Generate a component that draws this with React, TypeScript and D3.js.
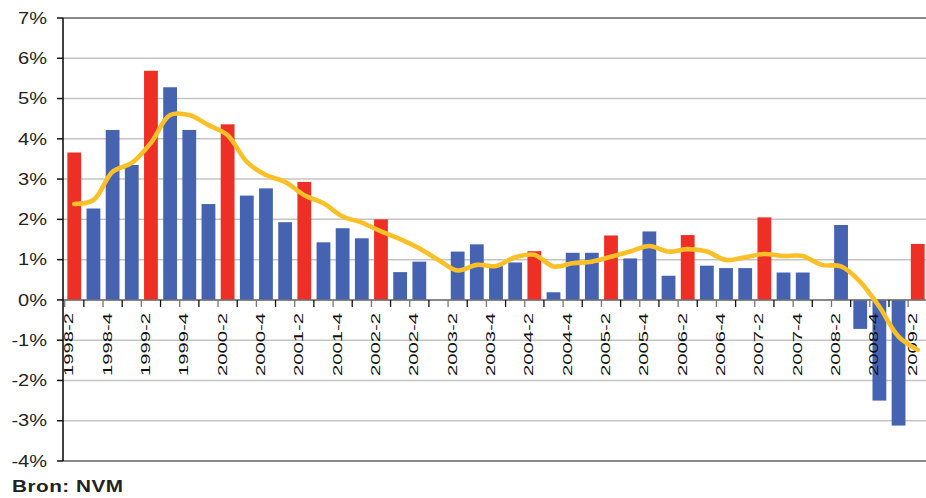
import React from 'react';
import * as d3 from 'd3';

// Quarterly categories (year-quarter)
const categories = [
  '1998-2', '1998-3', '1998-4', '1999-1', '1999-2', '1999-3', '1999-4', '2000-1',
  '2000-2', '2000-3', '2000-4', '2001-1', '2001-2', '2001-3', '2001-4', '2002-1',
  '2002-2', '2002-3', '2002-4', '2003-1', '2003-2', '2003-3', '2003-4', '2004-1',
  '2004-2', '2004-3', '2004-4', '2005-1', '2005-2', '2005-3', '2005-4', '2006-1',
  '2006-2', '2006-3', '2006-4', '2007-1', '2007-2', '2007-3', '2007-4', '2008-1',
  '2008-2', '2008-3', '2008-4', '2009-1', '2009-2',
];

// Quarterly change (%)
const barValues = [
  3.66, 2.27, 4.22, 3.35, 5.69, 5.28, 4.22, 2.38,
  4.36, 2.59, 2.77, 1.93, 2.93, 1.43, 1.78, 1.53,
  2.0, 0.69, 0.95, 0, 1.2, 1.38, 0.88, 0.93,
  1.21, 0.19, 1.17, 1.17, 1.6, 1.03, 1.7, 0.6,
  1.61, 0.85, 0.79, 0.79, 2.05, 0.68, 0.68, 0,
  1.86, -0.72, -2.5, -3.12, 1.39,
];

// Smoothed trend (%)
const trendValues = [
  2.38, 2.48, 3.18, 3.4, 3.9, 4.59, 4.59, 4.34,
  4.09, 3.43, 3.1, 2.93, 2.6, 2.4, 2.07, 1.92,
  1.7, 1.51, 1.28, 0.99, 0.73, 0.87, 0.84, 1.06,
  1.12, 0.83, 0.91, 0.95, 1.07, 1.2, 1.34, 1.2,
  1.26, 1.2, 0.99, 1.06, 1.14, 1.09, 1.09, 0.87,
  0.83, 0.45, -0.17, -0.91, -1.24,
];

// Bars drawn in red
const redQuarters = [
  '1998-2', '1999-2', '2000-2', '2001-2', '2002-2',
  '2004-2', '2005-2', '2006-2', '2007-2', '2009-2',
];

const yTicks = [-4, -3, -2, -1, 0, 1, 2, 3, 4, 5, 6, 7];

const W = 926;
const H = 498;
const RED = '#ee2f26';
const BLUE = '#4563b0';
const GOLD = '#fbc027';
const FONT = 'Arial, "Liberation Sans", sans-serif';

export default function App() {
  const x = d3.scaleBand<string>().domain(categories).range([62, 930]).padding(0.28);
  const y = d3.scaleLinear().domain([-4, 7]).range([461, 18]);
  const axisX = 63;
  const y0 = y(0);

  const line = d3
    .line<number>()
    .x((_, i) => (x(categories[i]) || 0) + x.bandwidth() / 2)
    .y((d) => y(d))
    .curve(d3.curveCatmullRom.alpha(0.5));

  return (
    <div style={{ position: 'fixed', left: 0, top: 0 }}>
      <svg width={W} height={H} style={{ display: 'block', background: '#fff' }}>
        {/* gridlines */}
        {yTicks.map((t) => {
          const edge = t === 7 || t === -4;
          return (
            <line
              key={'g' + t}
              x1={axisX}
              x2={W}
              y1={y(t)}
              y2={y(t)}
              stroke={edge ? '#8a8a8a' : '#c4c4c4'}
              strokeWidth={edge ? 2.2 : 1.5}
            />
          );
        })}

        {/* bars */}
        {categories.map((c, i) => {
          const v = barValues[i];
          return (
            <rect
              key={c}
              x={x(c)}
              width={x.bandwidth()}
              y={Math.min(y(v), y0)}
              height={Math.abs(y(v) - y0)}
              fill={redQuarters.includes(c) ? RED : BLUE}
            />
          );
        })}

        {/* zero line with ticks */}
        <line x1={axisX} x2={W} y1={y0} y2={y0} stroke="#6e6e6e" strokeWidth={1.5} />
        {categories.map((c, i) => (
          <line
            key={'xt' + c}
            x1={(x(c) || 0) - (x.step() - x.bandwidth()) / 2}
            x2={(x(c) || 0) - (x.step() - x.bandwidth()) / 2}
            y1={y0}
            y2={y0 + 7}
            stroke={i % 2 === 1 ? '#111' : '#777'}
            strokeWidth={1.3}
          />
        ))}

        {/* x labels */}
        {categories.map((c, i) =>
          i % 2 === 0 ? (
            <text
              key={'xl' + c}
              transform={`translate(${(x(c) || 0) + x.bandwidth() / 2 - 1},313) rotate(-90)`}
              textAnchor="end"
              fontFamily={FONT}
              fontSize={12.5}
              textLength={63}
              lengthAdjust="spacingAndGlyphs"
              fill="#111"
            >
              {c}
            </text>
          ) : null
        )}

        {/* y axis */}
        <line x1={axisX} x2={axisX} y1={y(7)} y2={y(-4)} stroke="#111" strokeWidth={1.6} />
        {yTicks.map((t) => (
          <g key={'yt' + t}>
            <line x1={axisX - 6} x2={axisX} y1={y(t)} y2={y(t)} stroke="#111" strokeWidth={1.5} />
            <text
              transform={`translate(47,${y(t)}) scale(1.25,1)`}
              dy="0.36em"
              textAnchor="end"
              fontFamily={FONT}
              fontSize={16}
              fill="#222"
            >
              {`${t}%`}
            </text>
          </g>
        ))}

        {/* trend line */}
        <path
          d={line(trendValues) || ''}
          fill="none"
          stroke={GOLD}
          strokeWidth={4.6}
          strokeLinejoin="round"
          strokeLinecap="round"
        />

        {/* source */}
        <text
          transform="translate(12,492) scale(1.22,1)"
          fontFamily={FONT}
          fontSize={17}
          fontWeight="bold"
          fill="#222"
          letterSpacing={0.4}
        >
          Bron: NVM
        </text>
      </svg>
    </div>
  );
}
